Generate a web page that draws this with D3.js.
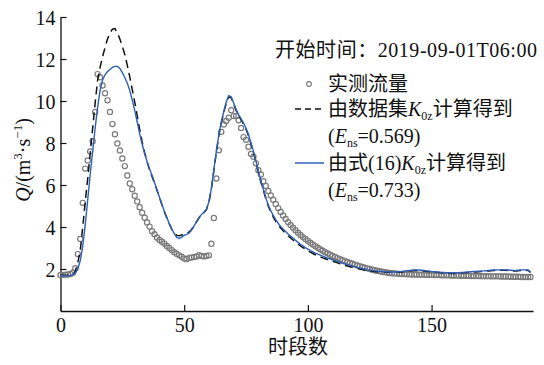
<!DOCTYPE html>
<html>
<head>
<meta charset="utf-8">
<style>
  body, html { margin: 0; padding: 0; background: #fff; }
  svg text { font-family: "Liberation Serif", "Noto Sans CJK SC", serif; fill: #111; }
</style>
</head>
<body>
<svg id="svg" width="544" height="365"></svg>
<script src="https://d3js.org/d3.v7.min.js"></script>
<script>
// measured discharge, one value per time step (0..190)
const observed = [
  1.72, 1.72, 1.73, 1.74, 1.76, 1.82, 2.04, 2.71, 3.43, 5.15,
  6.78, 7.17, 7.6, 8.08, 9.48, 11.28, 11.13, 10.74, 10.37, 10.03,
  9.48, 8.9, 8.42, 7.98, 7.64, 7.26, 6.9, 6.45, 6.07, 5.8,
  5.49, 5.22, 4.94, 4.68, 4.44, 4.22, 4.02, 3.8, 3.66, 3.5,
  3.38, 3.3, 3.21, 3.1, 3.0, 2.9, 2.8, 2.72, 2.65, 2.58,
  2.5, 2.47, 2.53, 2.55, 2.57, 2.6, 2.66, 2.62, 2.6, 2.62,
  2.65, 3.2, 4.43, 6.31, 7.65, 8.53, 8.88, 9.05, 9.2, 9.56,
  9.28, 9.28, 9.08, 8.72, 8.28, 8.15, 7.82, 7.48, 7.35, 7.03,
  6.7, 6.5, 6.18, 5.95, 5.72, 5.5, 5.3, 5.1, 4.9, 4.72,
  4.55, 4.38, 4.23, 4.1, 3.97, 3.85, 3.73, 3.62, 3.52, 3.43,
  3.34, 3.25, 3.17, 3.09, 3.01, 2.94, 2.87, 2.8, 2.74, 2.68,
  2.62, 2.57, 2.52, 2.47, 2.42, 2.37, 2.33, 2.29, 2.25, 2.21,
  2.17, 2.13, 2.1, 2.06, 2.03, 2.0, 1.97, 1.94, 1.92, 1.89,
  1.87, 1.85, 1.83, 1.81, 1.8, 1.79, 1.78, 1.77, 1.76, 1.76,
  1.75, 1.75, 1.74, 1.74, 1.74, 1.73, 1.73, 1.73, 1.72, 1.72,
  1.72, 1.71, 1.71, 1.71, 1.7, 1.7, 1.7, 1.7, 1.69, 1.69,
  1.69, 1.69, 1.68, 1.68, 1.68, 1.68, 1.67, 1.67, 1.67, 1.67,
  1.66, 1.66, 1.66, 1.66, 1.65, 1.65, 1.65, 1.65, 1.64, 1.64,
  1.64, 1.64, 1.63, 1.63, 1.63, 1.63, 1.62, 1.62, 1.62, 1.62,
  1.62
]

// computed with dataset K0z (dashed)
const byDataset = [
  1.7, 1.7, 1.7, 1.7, 1.7, 1.72, 1.9, 2.3, 2.9, 4.0,
  5.2, 6.3, 7.5, 8.7, 9.9, 11.0, 11.6, 12.1, 12.55, 12.95,
  13.25, 13.42, 13.45, 13.25, 12.95, 12.6, 12.2, 11.7, 11.15, 10.55,
  9.95, 9.3, 8.65, 8.05, 7.55, 7.1, 6.72, 6.4, 6.08, 5.75,
  5.4, 5.06, 4.73, 4.43, 4.14, 3.9, 3.72, 3.6, 3.58, 3.62,
  3.66, 3.7, 3.76, 3.88, 4.06, 4.25, 4.44, 4.58, 4.68, 4.83,
  5.18, 5.82, 6.7, 7.55, 8.35, 8.95, 9.45, 9.9, 10.2, 10.15,
  9.85, 9.55, 9.3, 9.1, 8.9, 8.65, 8.35, 7.95, 7.55, 7.1,
  6.6, 6.15, 5.75, 5.35, 5.0, 4.72, 4.48, 4.27, 4.1, 3.95,
  3.82, 3.7, 3.58, 3.48, 3.38, 3.28, 3.19, 3.1, 3.02, 2.94,
  2.86, 2.8, 2.74, 2.68, 2.63, 2.58, 2.53, 2.49, 2.45, 2.41,
  2.37, 2.33, 2.29, 2.25, 2.21, 2.17, 2.14, 2.11, 2.08, 2.05,
  2.02, 2.0, 1.97, 1.95, 1.93, 1.91, 1.89, 1.88, 1.87, 1.86,
  1.85, 1.85, 1.84, 1.84, 1.84, 1.84, 1.84, 1.85, 1.86, 1.88,
  1.9, 1.91, 1.92, 1.93, 1.93, 1.93, 1.92, 1.91, 1.89, 1.88,
  1.86, 1.85, 1.84, 1.83, 1.82, 1.81, 1.8, 1.8, 1.79, 1.79,
  1.79, 1.8, 1.81, 1.82, 1.83, 1.84, 1.85, 1.86, 1.86, 1.87,
  1.88, 1.89, 1.9, 1.91, 1.92, 1.93, 1.93, 1.94, 1.94, 1.94,
  1.94, 1.93, 1.92, 1.91, 1.91, 1.92, 1.93, 1.94, 1.94, 1.93,
  1.84
]

// computed with eq.(16) K0z (blue)
const byFormula = [
  1.68, 1.68, 1.68, 1.68, 1.69, 1.72, 1.8, 2.0, 2.4, 3.1,
  4.1, 5.3, 6.5, 7.6, 8.7, 9.7, 10.5, 11.0, 11.25, 11.4,
  11.5, 11.6, 11.65, 11.65, 11.55, 11.35, 11.12, 10.85, 10.5, 10.05,
  9.55, 9.0, 8.45, 7.95, 7.5, 7.12, 6.78, 6.45, 6.12, 5.78,
  5.42, 5.08, 4.75, 4.45, 4.15, 3.9, 3.68, 3.5, 3.45, 3.52,
  3.6, 3.65, 3.72, 3.85, 4.05, 4.25, 4.45, 4.6, 4.7, 4.85,
  5.2, 5.85, 6.75, 7.6, 8.4, 9.0, 9.5, 9.95, 10.25, 10.2,
  9.9, 9.6, 9.35, 9.15, 8.95, 8.7, 8.4, 8.0, 7.6, 7.15,
  6.65, 6.2, 5.8, 5.4, 5.05, 4.78, 4.55, 4.35, 4.18, 4.03,
  3.9, 3.78, 3.67, 3.57, 3.47, 3.37, 3.27, 3.18, 3.1, 3.02,
  2.95, 2.88, 2.82, 2.76, 2.71, 2.66, 2.61, 2.56, 2.52, 2.48,
  2.44, 2.4, 2.36, 2.32, 2.28, 2.24, 2.2, 2.17, 2.14, 2.11,
  2.08, 2.05, 2.02, 2.0, 1.97, 1.95, 1.93, 1.91, 1.9, 1.89,
  1.88, 1.87, 1.87, 1.86, 1.86, 1.86, 1.86, 1.87, 1.88, 1.9,
  1.92, 1.93, 1.94, 1.95, 1.95, 1.95, 1.94, 1.93, 1.91, 1.9,
  1.88, 1.87, 1.86, 1.85, 1.84, 1.83, 1.82, 1.82, 1.81, 1.81,
  1.81, 1.82, 1.83, 1.84, 1.85, 1.86, 1.87, 1.88, 1.88, 1.89,
  1.9, 1.91, 1.92, 1.93, 1.94, 1.95, 1.95, 1.96, 1.96, 1.96,
  1.96, 1.95, 1.94, 1.93, 1.93, 1.94, 1.95, 1.96, 1.96, 1.95,
  1.85
]

const xTicks = [0, 50, 100, 150]
const yTicks = [2, 4, 6, 8, 10, 12, 14]
const blue = "#2f5fb5"

const svg = d3.select("#svg")

const xScale = d3.scaleLinear().domain([0, 191]).range([60.5, 533])
const yScale = d3.scaleLinear().domain([0, 14]).range([311, 17])

// axes, ticks pointing inward
const xAxis = d3.axisBottom(xScale).tickValues(xTicks).tickSizeInner(-6).tickSizeOuter(0).tickPadding(7)
const yAxis = d3.axisLeft(yScale).tickValues(yTicks).tickSizeInner(-6).tickSizeOuter(0).tickPadding(5)

const gx = svg.append("g").attr("transform", "translate(0,311)").call(xAxis)
const gy = svg.append("g").attr("transform", "translate(60.5,0)").call(yAxis)

for (const g of [gx, gy]) {
  g.select(".domain").attr("stroke", "#111").attr("stroke-width", 1.3)
  g.selectAll(".tick line").attr("stroke", "#111").attr("stroke-width", 1.2)
  g.selectAll(".tick text")
    .attr("font-family", "Liberation Serif")
    .attr("font-size", 20)
    .attr("fill", "#111")
}
gx.selectAll(".tick text").attr("dy", "0.71em")
gy.selectAll(".tick text").attr("dy", "0.35em")

// series
const lineGen = d3.line()
  .x((d, i) => xScale(i))
  .y(d => yScale(d))

svg.append("g").selectAll("circle")
  .data(observed)
  .join("circle")
  .attr("cx", (d, i) => xScale(i))
  .attr("cy", d => yScale(d))
  .attr("r", 2.6)
  .attr("fill", "none")
  .attr("stroke", "#7a7a7a")
  .attr("stroke-width", 1.2)

svg.append("path")
  .attr("d", lineGen(byDataset))
  .attr("fill", "none")
  .attr("stroke", "#111")
  .attr("stroke-width", 1.5)
  .attr("stroke-dasharray", "8,5")

svg.append("path")
  .attr("d", lineGen(byFormula))
  .attr("fill", "none")
  .attr("stroke", blue)
  .attr("stroke-width", 1.4)

// axis titles
const yTitle = svg.append("text")
  .attr("transform", "translate(30,160) rotate(-90)")
  .attr("text-anchor", "middle")
  .attr("font-size", 20)
yTitle.append("tspan").attr("font-style", "italic").text("Q")
yTitle.append("tspan").text("/(m")
yTitle.append("tspan").attr("font-size", 13).attr("dy", -8).text("3")
yTitle.append("tspan").attr("dy", 8).text("·s")
yTitle.append("tspan").attr("font-size", 13).attr("dy", -8).text("−1")
yTitle.append("tspan").attr("dy", 8).text(")")

svg.append("text")
  .attr("x", 298).attr("y", 354)
  .attr("text-anchor", "middle")
  .attr("font-size", 20)
  .text("时段数")

// legend
const legend = svg.append("g")
const lx = 328

legend.append("text").attr("x", 275).attr("y", 57).attr("font-size", 20)
  .attr("textLength", 262).attr("lengthAdjust", "spacing")
  .text("开始时间：2019-09-01T06:00")

legend.append("circle").attr("cx", 309).attr("cy", 84).attr("r", 2.4)
  .attr("fill", "none").attr("stroke", "#7a7a7a").attr("stroke-width", 1.1)
legend.append("text").attr("x", lx).attr("y", 91).attr("font-size", 20).text("实测流量")

legend.append("line").attr("x1", 295).attr("x2", 324).attr("y1", 109).attr("y2", 109)
  .attr("stroke", "#111").attr("stroke-width", 1.5).attr("stroke-dasharray", "6,4")
const t1 = legend.append("text").attr("x", lx).attr("y", 116).attr("font-size", 20)
t1.append("tspan").text("由数据集")
t1.append("tspan").attr("font-style", "italic").text("K")
t1.append("tspan").attr("font-size", 12).attr("dy", 4).text("0z")
t1.append("tspan").attr("dy", -4).text("计算得到")

const e1 = legend.append("text").attr("x", lx).attr("y", 143).attr("font-size", 20)
e1.append("tspan").text("(")
e1.append("tspan").attr("font-style", "italic").text("E")
e1.append("tspan").attr("font-size", 12).attr("dy", 4).text("ns")
e1.append("tspan").attr("dy", -4).text("=0.569)")

legend.append("line").attr("x1", 295).attr("x2", 324).attr("y1", 163).attr("y2", 163)
  .attr("stroke", blue).attr("stroke-width", 1.5)
const t2 = legend.append("text").attr("x", lx).attr("y", 170).attr("font-size", 20)
t2.append("tspan").text("由式(16)")
t2.append("tspan").attr("font-style", "italic").text("K")
t2.append("tspan").attr("font-size", 12).attr("dy", 4).text("0z")
t2.append("tspan").attr("dy", -4).text("计算得到")

const e2 = legend.append("text").attr("x", lx).attr("y", 197).attr("font-size", 20)
e2.append("tspan").text("(")
e2.append("tspan").attr("font-style", "italic").text("E")
e2.append("tspan").attr("font-size", 12).attr("dy", 4).text("ns")
e2.append("tspan").attr("dy", -4).text("=0.733)")
</script>
</body>
</html>
